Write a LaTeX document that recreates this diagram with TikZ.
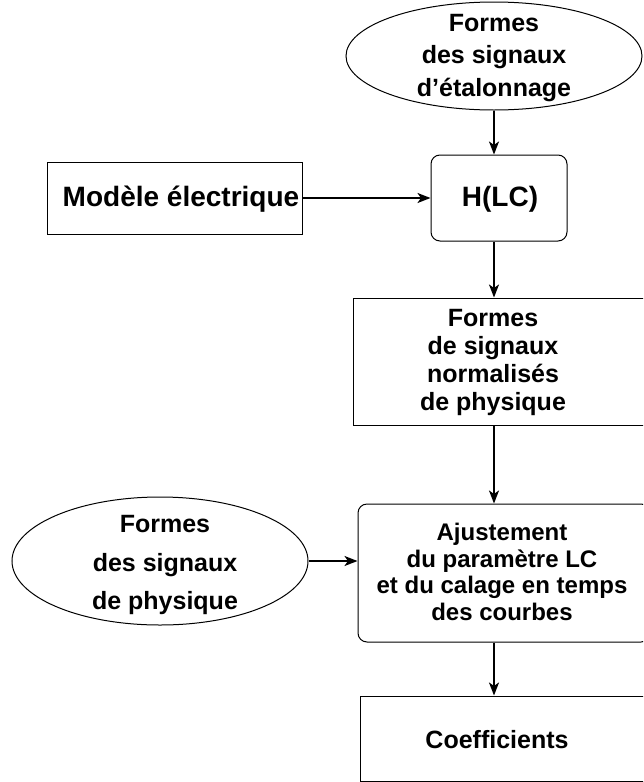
\documentclass[tikz,border=0pt]{standalone}
\usepackage{fontspec}
\setmainfont{Liberation Sans}
\usetikzlibrary{shapes.geometric,arrows.meta}
\tikzset{
  boxline/.style={draw=black, line width=1pt},
  sqbox/.style={boxline, rectangle, inner sep=0pt},
  rbox/.style={boxline, rectangle, rounded corners=9pt, inner sep=0pt},
  ell/.style={boxline, ellipse, inner sep=0pt},
  txt/.style={inner sep=0pt, align=center, font=\bfseries},
  arr/.style={line width=2pt, -{Stealth[length=13pt,width=10pt,inset=3.5pt]}}
}
\begin{document}
\begin{tikzpicture}[x=1pt,y=-1pt]
\useasboundingbox (0,0) rectangle (643,782);
\begin{scope}
\clip (0,0) rectangle (643,782);
% shapes
\node[ell, minimum width=296pt, minimum height=108pt] (topell) at (494,56) {};
\node[rbox, minimum width=136pt, minimum height=86pt] (hlc) at (499,198) {};
\node[sqbox, minimum width=255pt, minimum height=72pt] (modele) at (174.5,198) {};
\node[sqbox, minimum width=297pt, minimum height=127pt] (norm) at (501.5,361.5) {};
\node[rbox, minimum width=292pt, minimum height=138pt] (ajust) at (504,573) {};
\node[sqbox, minimum width=290pt, minimum height=85pt] (coef) at (505,738.5) {};
\node[ell, minimum width=296pt, minimum height=128pt] (leftell) at (160,561) {};
% texts
\node[txt, font=\bfseries\fontsize{25}{32.5}\selectfont] (ttop) at (494,58) {Formes\\des signaux\\d’étalonnage};
\node[txt, font=\bfseries\fontsize{28}{32}\selectfont] (thlc) at (500,199) {H(LC)};
\node[txt, font=\bfseries\fontsize{28}{32}\selectfont] (tmod) at (181,199) {Modèle électrique};
\node[txt, font=\bfseries\fontsize{25}{28}\selectfont] (tnorm) at (493,362) {Formes\\de signaux\\normalisés\\de physique};
\node[txt, font=\bfseries\fontsize{24}{26.7}\selectfont] (tajust) at (502,572) {Ajustement\\du paramètre LC\hspace{12pt}\\et du calage en temps\\des courbes\hspace{44pt}};
\node[txt, font=\bfseries\fontsize{25}{38.5}\selectfont] (tleft) at (165,565) {Formes\\des signaux\\de physique};
\node[txt, font=\bfseries\fontsize{25}{30}\selectfont] (tcoef) at (497,740) {Coefficients};
% connectors
\draw[arr] (topell.south) -- (topell.south |- hlc.north);
\draw[arr] (modele.east) -- (hlc.west);
\draw[arr] (hlc.south -| topell.south) -- (norm.north -| topell.south);
\draw[arr] (norm.south -| topell.south) -- (ajust.north -| topell.south);
\draw[arr] (ajust.south -| topell.south) -- (coef.north -| topell.south);
\draw[arr] (leftell.east) -- (leftell.east -| ajust.west);
\end{scope}
\end{tikzpicture}
\end{document}
